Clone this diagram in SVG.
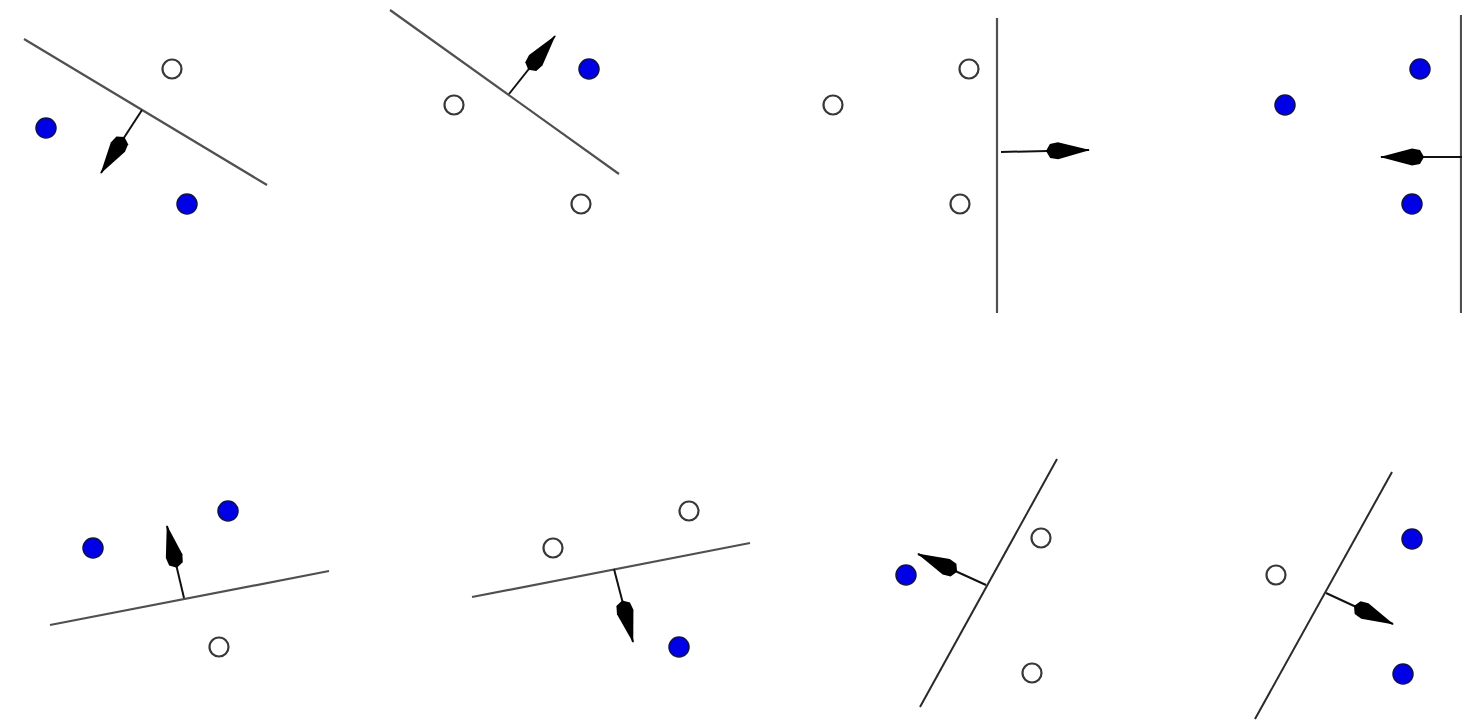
<svg xmlns="http://www.w3.org/2000/svg" width="1462" height="725" viewBox="0 0 1462 725">
<style>
.sep{stroke:#505050;stroke-width:2.2;fill:none}
.sep2{stroke:#2a2a2a;stroke-width:2;fill:none}
.arr{stroke:#111;stroke-width:2;fill:none;marker-end:url(#head)}
.pos{fill:#0000e6;stroke:#101050;stroke-width:1.5}
.neg{fill:#fff;stroke:#383838;stroke-width:2.2}
</style>
<defs>
<marker id="head" markerUnits="userSpaceOnUse" markerWidth="44" markerHeight="20" viewBox="0 0 44 20" refX="43" refY="10" orient="auto">
<path d="M44,10 L12,1.5 L4,3 L0,10 L4,17 L12,18.5 Z" fill="#000"/>
</marker>
</defs>
<rect width="1462" height="725" fill="#fff"/>
<g id="connectors">
<line class="sep" x1="24" y1="39" x2="267" y2="185"/>
<line class="arr" x1="142" y1="110" x2="101" y2="173"/>
<line class="sep" x1="390" y1="10" x2="619" y2="174"/>
<line class="arr" x1="509" y1="94" x2="555" y2="36"/>
<line class="sep" x1="997" y1="18" x2="997" y2="313"/>
<line class="arr" x1="1001" y1="152" x2="1089" y2="150"/>
<line class="sep" x1="1461" y1="15" x2="1461" y2="313"/>
<line class="arr" x1="1462" y1="157" x2="1381" y2="157"/>
<line class="sep" x1="50" y1="625" x2="329" y2="571"/>
<line class="arr" x1="184" y1="598" x2="167" y2="526"/>
<line class="sep" x1="472" y1="597" x2="750" y2="543"/>
<line class="arr" x1="614" y1="569" x2="633" y2="642"/>
<line class="sep2" x1="920" y1="707" x2="1057" y2="459"/>
<line class="arr" x1="986" y1="585" x2="918" y2="554"/>
<line class="sep2" x1="1255" y1="719" x2="1392" y2="472"/>
<line class="arr" x1="1326" y1="593" x2="1393" y2="624"/>
</g>
<g id="p1a"><circle class="neg" cx="172" cy="69" r="9.5"/></g>
<g id="p1b"><circle class="pos" cx="46" cy="128" r="10"/></g>
<g id="p1c"><circle class="pos" cx="187" cy="204" r="10"/></g>
<g id="p2a"><circle class="pos" cx="589" cy="69" r="10"/></g>
<g id="p2b"><circle class="neg" cx="454" cy="105" r="9.5"/></g>
<g id="p2c"><circle class="neg" cx="581" cy="204" r="9.5"/></g>
<g id="p3a"><circle class="neg" cx="969" cy="69" r="9.5"/></g>
<g id="p3b"><circle class="neg" cx="833" cy="105" r="9.5"/></g>
<g id="p3c"><circle class="neg" cx="960" cy="204" r="9.5"/></g>
<g id="p4a"><circle class="pos" cx="1420" cy="69" r="10"/></g>
<g id="p4b"><circle class="pos" cx="1285" cy="105" r="10"/></g>
<g id="p4c"><circle class="pos" cx="1412" cy="204" r="10"/></g>
<g id="p5a"><circle class="pos" cx="93" cy="548" r="10"/></g>
<g id="p5b"><circle class="pos" cx="228" cy="511" r="10"/></g>
<g id="p5c"><circle class="neg" cx="219" cy="647" r="9.5"/></g>
<g id="p6a"><circle class="neg" cx="553" cy="548" r="9.5"/></g>
<g id="p6b"><circle class="neg" cx="689" cy="511" r="9.5"/></g>
<g id="p6c"><circle class="pos" cx="679" cy="647" r="10"/></g>
<g id="p7a"><circle class="pos" cx="906" cy="575" r="10"/></g>
<g id="p7b"><circle class="neg" cx="1041" cy="538" r="9.5"/></g>
<g id="p7c"><circle class="neg" cx="1032" cy="673" r="9.5"/></g>
<g id="p8a"><circle class="pos" cx="1412" cy="539" r="10"/></g>
<g id="p8b"><circle class="neg" cx="1276" cy="575" r="9.5"/></g>
<g id="p8c"><circle class="pos" cx="1403" cy="674" r="10"/></g>
</svg>
